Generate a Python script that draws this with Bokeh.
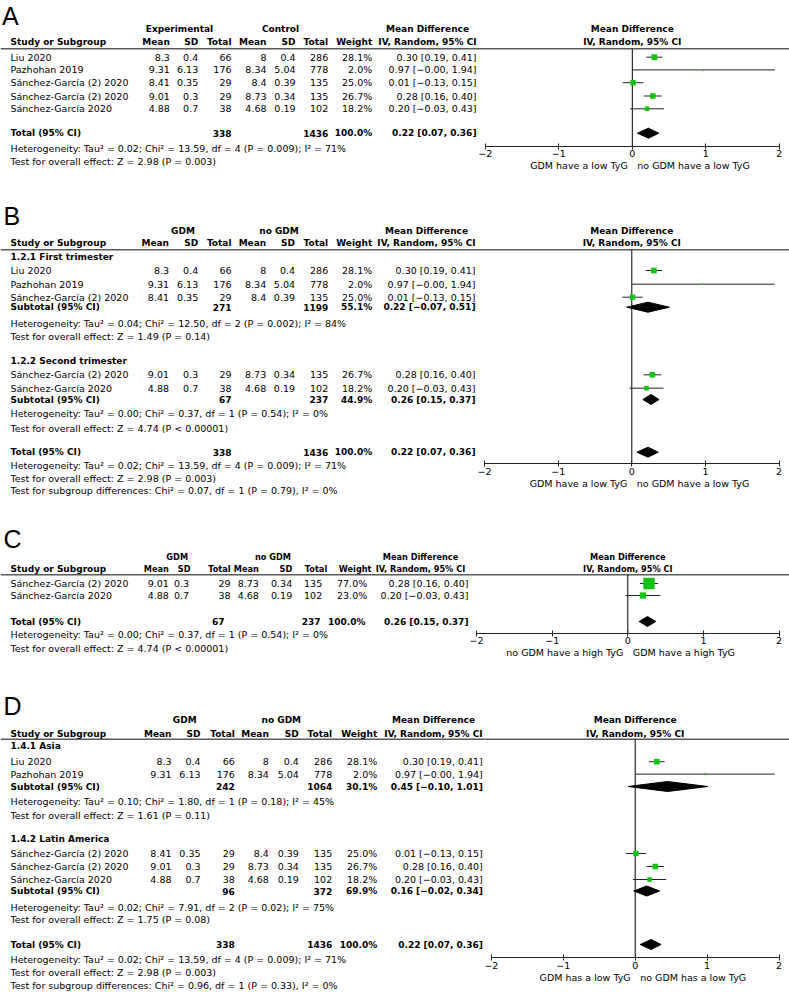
from math import sqrt
from bokeh.plotting import figure
from bokeh.models import Range1d, LinearAxis, FixedTicker, ColumnDataSource
from bokeh.core.properties import value
from bokeh.embed import file_html
from bokeh.resources import INLINE

# ---------------- data ----------------
study = ["Liu 2020", "Pazhohan 2019", "Sánchez-García (2) 2020",
         "Sánchez-García (2) 2020", "Sánchez-García 2020"]
gdm_mean = [8.3, 9.31, 8.41, 9.01, 4.88]
gdm_sd = [0.4, 6.13, 0.35, 0.3, 0.7]
gdm_n = [66, 176, 29, 29, 38]
ctl_mean = [8, 8.34, 8.4, 8.73, 4.68]
ctl_sd = [0.4, 5.04, 0.39, 0.34, 0.19]
ctl_n = [286, 778, 135, 135, 102]
weight = [28.1, 2.0, 25.0, 26.7, 18.2]
weight_c = [77.0, 23.0]
md = [0.30, 0.97, 0.01, 0.28, 0.20]
ci_lo = [0.19, -0.00, -0.13, 0.16, -0.03]
ci_hi = [0.41, 1.94, 0.15, 0.40, 0.43]

# pooled: (n gdm, n no gdm, weight %, md, lo, hi)
pooled_all = (338, 1436, 100.0, 0.22, 0.07, 0.36)
pooled_first = (271, 1199, 55.1, 0.22, -0.07, 0.51)
pooled_second = (67, 237, 44.9, 0.26, 0.15, 0.37)
pooled_c = (67, 237, 100.0, 0.26, 0.15, 0.37)
pooled_asia = (242, 1064, 30.1, 0.45, -0.10, 1.01)
pooled_latam = (96, 372, 69.9, 0.16, -0.02, 0.34)

het_all = "Heterogeneity: Tau² = 0.02; Chi² = 13.59, df = 4 (P = 0.009); I² = 71%"
z_all = "Test for overall effect: Z = 2.98 (P = 0.003)"
het_first = "Heterogeneity: Tau² = 0.04; Chi² = 12.50, df = 2 (P = 0.002); I² = 84%"
z_first = "Test for overall effect: Z = 1.49 (P = 0.14)"
het_second = "Heterogeneity: Tau² = 0.00; Chi² = 0.37, df = 1 (P = 0.54); I² = 0%"
z_second = "Test for overall effect: Z = 4.74 (P < 0.00001)"
sub_b = "Test for subgroup differences: Chi² = 0.07, df = 1 (P = 0.79), I² = 0%"
het_asia = "Heterogeneity: Tau² = 0.10; Chi² = 1.80, df = 1 (P = 0.18); I² = 45%"
z_asia = "Test for overall effect: Z = 1.61 (P = 0.11)"
het_latam = "Heterogeneity: Tau² = 0.02; Chi² = 7.91, df = 2 (P = 0.02); I² = 75%"
z_latam = "Test for overall effect: Z = 1.75 (P = 0.08)"
sub_d = "Test for subgroup differences: Chi² = 0.96, df = 1 (P = 0.33), I² = 0%"

axis_ticks = [-2, -1, 0, 1, 2]
favours_a = ("GDM have a low TyG", "no GDM have a low TyG")
favours_c = ("no GDM have a high TyG", "GDM have a high TyG")
favours_d = ("GDM has a low TyG", "no GDM has a low TyG")

# ---------------- layout / style ----------------
FONT = "DejaVu Sans"
GREEN = "#13c313"
W, H = 789, 992

# forest x-mapping per panel: (page x of zero, px per unit)
fmap = {"A": (631.8, 73.5), "B": (631.3, 73.6), "C": (627.3, 75.6), "D": (634.7, 71.9)}

p = figure(width=W, height=H, x_range=Range1d(0, W), y_range=Range1d(H, 0),
           output_backend="svg", toolbar_location=None, x_axis_type=None,
           y_axis_type=None, min_border=0, outline_line_color=None)
p.extra_x_ranges = {k: Range1d((0 - z) / s, (W - z) / s) for k, (z, s) in fmap.items()}

texts = {}


def T(x, y, s, align="left", bold=False, xr="default", size=None):
    if size is None:
        size = "9px" if bold else "9.5px"
    texts.setdefault((align, bold, xr, size), []).append((x, y, s))


def num(v):
    return f"{v:g}"


def cistr(m, l, h):
    return f"{m:.2f} [{l:.2f}, {h:.2f}]".replace("-", "−")


def header(c, xr, y1, y2, g1, g2, hs=None):
    T(c["g1"], y1, g1, "center", True, size=hs)
    T(c["g2"], y1, g2, "center", True, size=hs)
    T(c["cih"], y1, "Mean Difference", "center", True, size=hs)
    T(0, y1, "Mean Difference", "center", True, xr, size=hs)
    T(10, y2, "Study or Subgroup", "left", True)
    for k, s in [("m1", "Mean"), ("s1", "SD"), ("n1", "Total"), ("m2", "Mean"),
                 ("s2", "SD"), ("n2", "Total"), ("w", "Weight")]:
        T(c[k], y2, s, "right", True, size=hs)
    T(c["cih"], y2, "IV, Random, 95% CI", "center", True, size=hs)
    T(0, y2, "IV, Random, 95% CI", "center", True, xr, size=hs)


def study_row(c, y, i, w, fr, k):
    T(10, y, study[i])
    T(c["m1"], y, num(gdm_mean[i]), "right")
    T(c.get("vs1", c["s1"]), y, num(gdm_sd[i]), "right")
    T(c["n1"], y, str(gdm_n[i]), "right")
    T(c["m2"], y, num(ctl_mean[i]), "right")
    T(c["s2"], y, num(ctl_sd[i]), "right")
    T(c.get("vn2", c["n2"]), y, str(ctl_n[i]), "right")
    T(c.get("vw", c["w"]), y, f"{w:.1f}%", "right")
    T(c["ci"], y, cistr(md[i], ci_lo[i], ci_hi[i]), "right")
    fr["lo"].append(ci_lo[i]); fr["hi"].append(ci_hi[i]); fr["md"].append(md[i])
    fr["y"].append(y); fr["size"].append(k * sqrt(w))


def pooled_row(c, y, label, pooled, dm):
    n1, n2, w, m, l, h = pooled
    T(10, y, label, "left", True)
    T(c.get("tn1", c["n1"]), y, str(n1), "right", True)
    T(c.get("tn2", c["n2"]), y, str(n2), "right", True)
    T(c.get("tw", c["w"]), y, f"{w:.1f}%", "right", True)
    T(c["ci"], y, cistr(m, l, h), "right", True)
    dm["xs"].append([l, m, h, m]); dm["ys"].append([y, y - 5, y, y + 5])


def hline(y):
    p.segment(x0=[0], x1=[W], y0=[y], y1=[y], line_color="#5a5a5a", line_width=1.5)


def letter(x, y, s):
    p.text(x=[x], y=[y], text=[s], text_font=value("Liberation Sans"),
           text_font_size="25px", text_baseline="middle", text_color="black")


def forest(xr, fr, dm, top, axis_y, title_y, fav):
    p.segment(x0=[0], x1=[0], y0=[top], y1=[axis_y], x_range_name=xr,
              line_color="black", line_width=1)
    src = ColumnDataSource(fr)
    p.segment(x0="lo", x1="hi", y0="y", y1="y", source=src, x_range_name=xr,
              line_color="#222222", line_width=1)
    p.scatter(x="md", y="y", size="size", marker="square", source=src, x_range_name=xr,
              fill_color=GREEN, line_color=None)
    p.patches(xs="xs", ys="ys", source=ColumnDataSource(dm), x_range_name=xr,
              fill_color="black", line_color="black", line_width=1)
    ax = LinearAxis(x_range_name=xr, fixed_location=axis_y, bounds=(-2, 2),
                    ticker=FixedTicker(ticks=axis_ticks, minor_ticks=[]),
                    major_tick_in=3, major_tick_out=3, minor_tick_in=0, minor_tick_out=0,
                    major_label_standoff=1, major_label_text_font=FONT,
                    major_label_text_font_size="9.5px", major_label_text_color="black",
                    axis_line_color="#222222", major_tick_line_color="#222222",
                    major_label_overrides={-2: "−2", -1: "−1"})
    p.add_layout(ax, "below")
    p.text(x=[0], y=[title_y], text=[fav[0]], x_offset=-4.5, x_range_name=xr,
           text_align="right", text_baseline="middle", text_font=value(FONT),
           text_font_size="9.5px", text_color="black")
    p.text(x=[0], y=[title_y], text=[fav[1]], x_offset=5, x_range_name=xr,
           text_align="left", text_baseline="middle", text_font=value(FONT),
           text_font_size="9.5px", text_color="black")


def newfr():
    return {"lo": [], "hi": [], "md": [], "y": [], "size": []}


def newdm():
    return {"xs": [], "ys": []}


colsA = dict(m1=169.3, s1=197.7, n1=231, m2=266, s2=295, n2=327.7, w=371.7, ci=476, cih=427, g1=179, g2=280)
colsB = dict(m1=168.5, s1=197.7, n1=231, m2=265.7, s2=294.5, n2=327.7, w=371.7, ci=475, cih=426, g1=182.5, g2=278.5)
colsC = dict(m1=168.3, s1=190, n1=230, m2=258.3, s2=291.7, n2=326.7, w=371, ci=468, cih=420, g1=176.7, g2=272.5,
             vs1=188.5, vn2=321.7, vw=366.7, tn1=224, tn2=320, tw=365)
colsD = dict(m1=171, s1=200, n1=234.3, m2=268.3, s2=298.3, n2=331.7, w=376.7, ci=482.3, cih=433, g1=184.2, g2=280.8)

# ---------------- Panel A ----------------
letter(1.5, 15.5, "A")
header(colsA, "A", 28.3, 41.7, "Experimental", "Control")
hline(48.3)
frA, dmA = newfr(), newdm()
for y, i in zip([56.7, 69.4, 82.2, 95.5, 108.3], [0, 1, 2, 3, 4]):
    study_row(colsA, y, i, weight[i], frA, 1.07)
pooled_row(colsA, 132.7, "Total (95% CI)", pooled_all, dmA)
T(10, 147.7, het_all)
T(10, 161, z_all)
forest("A", frA, dmA, 48.3, 145.7, 165, favours_a)

# ---------------- Panel B ----------------
letter(3, 215.3, "B")
header(colsB, "B", 230.7, 242.7, "GDM", "no GDM")
hline(249.2)
frB, dmB = newfr(), newdm()
T(10, 256.3, "1.2.1 First trimester", "left", True)
for y, i in zip([270, 283.7, 296.7], [0, 1, 2]):
    study_row(colsB, y, i, weight[i], frB, 1.07)
pooled_row(colsB, 306.7, "Subtotal (95% CI)", pooled_first, dmB)
T(10, 323.3, het_first)
T(10, 335.7, z_first)
T(10, 360.7, "1.2.2 Second trimester", "left", True)
for y, i in zip([374.3, 387.7], [3, 4]):
    study_row(colsB, y, i, weight[i], frB, 1.07)
pooled_row(colsB, 399, "Subtotal (95% CI)", pooled_second, dmB)
T(10, 413.3, het_second)
T(10, 427.7, z_second)
pooled_row(colsB, 451.7, "Total (95% CI)", pooled_all, dmB)
T(10, 465, het_all)
T(10, 477.7, z_all)
T(10, 490.3, sub_b)
forest("B", frB, dmB, 249.2, 463.3, 483.3, favours_a)

# ---------------- Panel C ----------------
letter(3, 538.3, "C")
header(colsC, "C", 556.7, 568.3, "GDM", "no GDM", hs="8.2px")
hline(574.3)
frC, dmC = newfr(), newdm()
for y, i, w in zip([583, 595], [3, 4], weight_c):
    study_row(colsC, y, i, w, frC, 1.3)
pooled_row(colsC, 621, "Total (95% CI)", pooled_c, dmC)
T(10, 634.3, het_second)
T(10, 647.7, z_second)
forest("C", frC, dmC, 574.3, 632.7, 652.3, favours_c)

# ---------------- Panel D ----------------
letter(3, 705.3, "D")
header(colsD, "D", 719.5, 733, "GDM", "no GDM")
hline(738.8)
frD, dmD = newfr(), newdm()
T(10, 745.7, "1.4.1 Asia", "left", True)
for y, i in zip([761.2, 773.6], [0, 1]):
    study_row(colsD, y, i, weight[i], frD, 1.07)
pooled_row(colsD, 786, "Subtotal (95% CI)", pooled_asia, dmD)
T(10, 801, het_asia)
T(10, 815, z_asia)
T(10, 838.3, "1.4.2 Latin America", "left", True)
for y, i in zip([853, 866, 879], [2, 3, 4]):
    study_row(colsD, y, i, weight[i], frD, 1.07)
pooled_row(colsD, 890.5, "Subtotal (95% CI)", pooled_latam, dmD)
T(10, 906.7, het_latam)
T(10, 919, z_latam)
pooled_row(colsD, 944, "Total (95% CI)", pooled_all, dmD)
T(10, 959, het_all)
T(10, 972.3, z_all)
T(10, 985, sub_d)
forest("D", frD, dmD, 738.8, 957.3, 977.3, favours_d)

# ---------------- draw texts ----------------
for (align, bold, xr, size), items in texts.items():
    src = ColumnDataSource(dict(x=[a[0] for a in items], y=[a[1] for a in items],
                                t=[a[2] for a in items]))
    kw = {} if xr == "default" else {"x_range_name": xr}
    p.text(x="x", y="y", text="t", source=src, text_align=align, text_baseline="middle",
           text_font=value(FONT), text_font_size=size,
           text_font_style="bold" if bold else "normal", text_color="black", **kw)

open("out.html", "w").write(file_html(p, INLINE))
